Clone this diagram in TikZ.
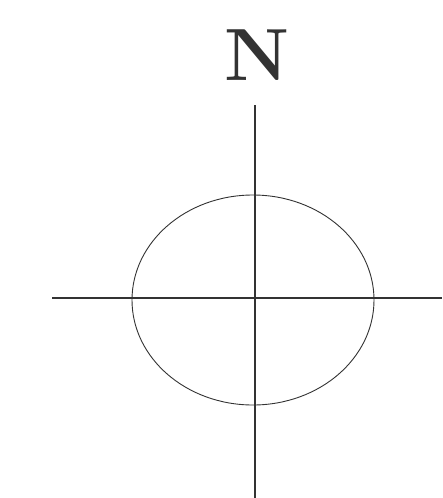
\documentclass[tikz,border=0pt]{standalone}
\begin{document}
\begin{tikzpicture}[x=1pt,y=-1pt,
  axis/.style={line width=1.3pt,black!80},
  orbit/.style={line width=0.9pt,black!80}]
\useasboundingbox (0,0) rectangle (442,498);
\node[font=\fontsize{74}{74}\selectfont\bfseries,text=black!80,inner sep=0pt,anchor=base] (n) at (257,80) {N};
\coordinate (vtop) at (255,105);
\coordinate (vbot) at (255,498);
\coordinate (hl) at (52,298);
\coordinate (hr) at (442,298);
\coordinate (c) at (253,300);
\draw[axis] (vtop) -- (vbot);
\draw[axis] (hl) -- (hr);
\draw[orbit] (c) ellipse [x radius=121, y radius=105];
\end{tikzpicture}
\end{document}
